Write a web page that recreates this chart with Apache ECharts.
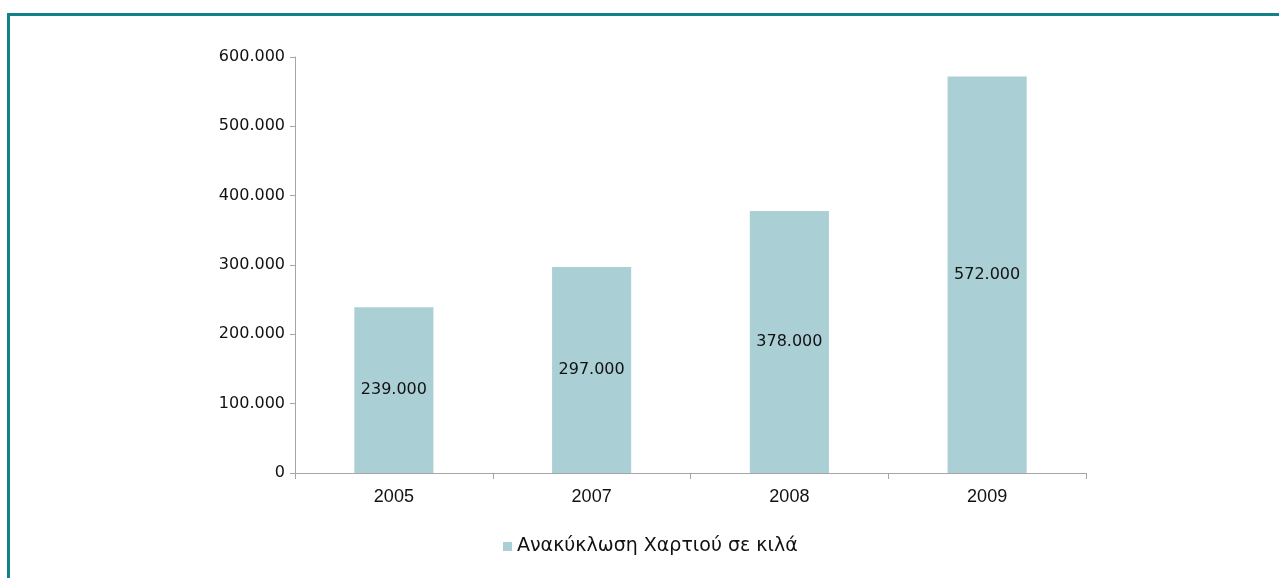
<!DOCTYPE html>
<html>
<head>
<meta charset="utf-8">
<script src="https://cdn.jsdelivr.net/npm/echarts@6/dist/echarts.min.js"></script>
<style>
  html, body { margin: 0; padding: 0; background: #fff; overflow: hidden; }
  .frame {
    position: absolute;
    left: 7px;
    top: 13px;
    width: 1300px;
    height: 600px;
    border-top: 3px solid #13808a;
    border-left: 3px solid #13808a;
  }
  #chart { position: absolute; left: 0; top: 0; width: 1279px; height: 578px; }
</style>
</head>
<body>
<div class="frame"></div>
<div id="chart"></div>
<script>
// years and kilos of recycled paper
const years = ['2005', '2007', '2008', '2009'];
const paperKg = [239000, 297000, 378000, 572000];
const seriesName = 'Ανακύκλωση Χαρτιού σε κιλά';

// 600000 -> "600.000"
function fmt(v) {
  return String(v).replace(/\B(?=(\d{3})+(?!\d))/g, '.');
}

const chart = echarts.init(document.getElementById('chart'));
chart.setOption({
  animation: false,
  textStyle: { fontFamily: 'DejaVu Sans' },
  grid: { left: 295, right: 193, top: 57, bottom: 105 },
  legend: {
    bottom: 17,
    left: 498,
    icon: 'rect',
    itemWidth: 9,
    itemHeight: 9,
    itemGap: 5,
    textStyle: { fontSize: 19, color: '#111', fontFamily: 'DejaVu Sans' },
    data: [seriesName]
  },
  xAxis: {
    type: 'category',
    data: years,
    axisLine: { lineStyle: { color: '#a6a6a6' } },
    axisTick: { show: true, length: 6, lineStyle: { color: '#a6a6a6' } },
    axisLabel: { fontSize: 18, color: '#111', margin: 15, fontFamily: 'Liberation Sans' }
  },
  yAxis: {
    type: 'value',
    min: 0,
    max: 600000,
    interval: 100000,
    splitLine: { show: false },
    axisLine: { show: true, lineStyle: { color: '#a6a6a6' } },
    axisTick: { show: true, length: 5, lineStyle: { color: '#a6a6a6' } },
    axisLabel: { fontSize: 16, color: '#111', margin: 10, formatter: fmt }
  },
  series: [{
    name: seriesName,
    type: 'bar',
    data: paperKg,
    barWidth: '40%',
    itemStyle: { color: '#aad0d6' },
    label: {
      show: true,
      position: 'inside',
      fontSize: 16,
      color: '#111',
      formatter: p => fmt(p.value)
    }
  }]
});
</script>
</body>
</html>
